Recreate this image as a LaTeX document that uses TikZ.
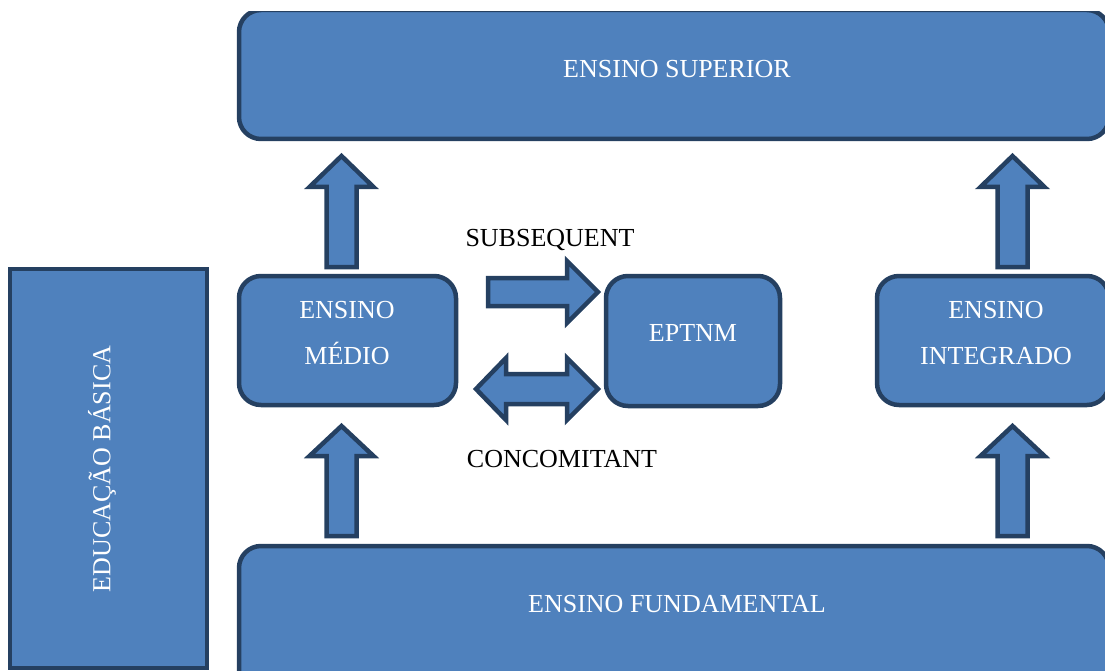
\documentclass[tikz,border=0pt]{standalone}
\usepackage{fontspec}
\setmainfont{Liberation Serif}
\definecolor{boxfill}{HTML}{4F81BD}
\definecolor{boxline}{HTML}{254061}
\begin{document}
\begin{tikzpicture}[x=1pt,y=-1pt,
  blk/.style={fill=boxfill,draw=boxline,line width=4.5pt},
  rbox/.style={blk,rounded corners=22pt},
  sqbox/.style={blk},
  blockarrow/.style={blk,line width=4.5pt,line join=miter},
  wtext/.style={text=white,font=\fontsize{26}{46}\selectfont,align=center,inner sep=0pt},
  btext/.style={text=black,font=\fontsize{26}{30}\selectfont,inner sep=0pt}]
\useasboundingbox (0,0) rectangle (1105,671);
\clip (0,0) rectangle (1105,671);
% boxes
\begin{scope}
\clip (0,12) rectangle (1105,671);
\draw[rbox] (239,10) rectangle (1109,139);
\end{scope}
\draw[rbox] (239,276) rectangle (456,405);
\draw[rbox] (606,276) rectangle (780,406);
\draw[rbox] (877,276) rectangle (1109,405);
\draw[rbox] (239,546) rectangle (1109,700);
\draw[sqbox] (10,269) rectangle (207,668);
% texts
\node[wtext] (sup) at (677,69) {ENSINO SUPERIOR};
\node[wtext] (med) at (347,333) {ENSINO\\MÉDIO};
\node[wtext] (ept) at (693,333) {EPTNM};
\node[wtext] (int) at (996,333) {ENSINO\\INTEGRADO};
\node[wtext] (fun) at (677,604) {ENSINO FUNDAMENTAL};
\node[wtext,rotate=90] (edu) at (102,469) {EDUCAÇÃO BÁSICA};
\node[btext] (subs) at (550,240) {SUBSEQUENT};
\node[btext] (conc) at (562,459) {CONCOMITANT};
% up arrows
\foreach \cx in {341.5,1012.5}{
  \draw[blockarrow] (\cx-15,267) -- (\cx-15,187) -- (\cx-32,187) -- (\cx,156) -- (\cx+32,187) -- (\cx+15,187) -- (\cx+15,267) -- cycle;
  \draw[blockarrow] (\cx-15,536) -- (\cx-15,456) -- (\cx-32,456) -- (\cx,426) -- (\cx+32,456) -- (\cx+15,456) -- (\cx+15,536) -- cycle;
}
% subsequent right arrow
\draw[blockarrow] (488,278) -- (567,278) -- (567,261) -- (598,292) -- (567,323) -- (567,306) -- (488,306) -- cycle;
% concomitant double arrow
\draw[blockarrow] (476,389) -- (506,358) -- (506,374) -- (567,374) -- (567,358) -- (598,389) -- (567,420) -- (567,404) -- (506,404) -- (506,420) -- cycle;
\end{tikzpicture}
\end{document}
